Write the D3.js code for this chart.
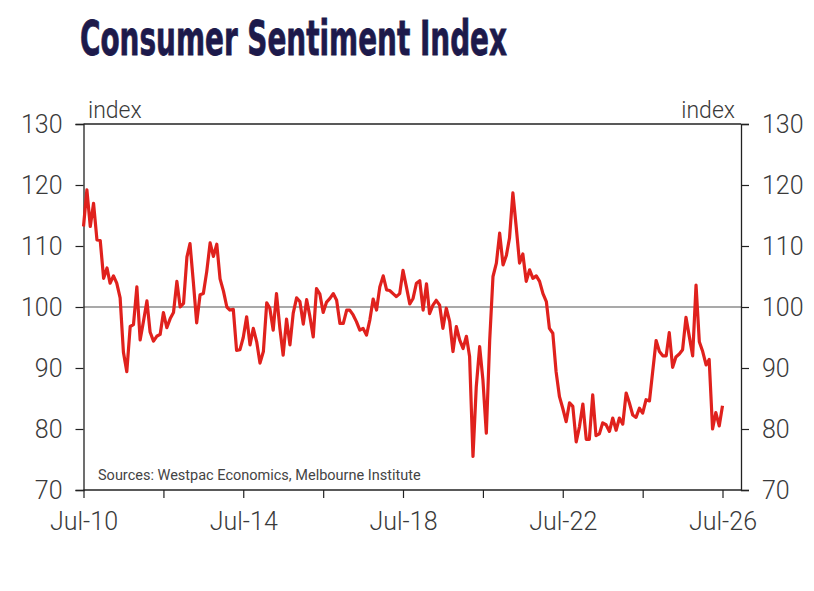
<!DOCTYPE html>
<html><head><meta charset="utf-8">
<script src="https://cdn.jsdelivr.net/npm/d3@7"></script>
<style>
html,body{margin:0;padding:0;background:#fff;}
svg{display:block;}
</style></head>
<body>
<svg id="chart" width="814" height="591"></svg>
<script>
const title = "Consumer Sentiment Index";
const source = "Sources: Westpac Economics, Melbourne Institute";
const startMonth = "2010-07";
const sentiment = [
113.2,119.2,113.2,117.0,111.0,110.9,104.7,106.4,103.9,105.1,103.9,101.5,
92.6,89.4,96.8,97.1,103.3,94.6,97.7,101.0,95.9,94.4,95.2,95.5,
99.1,96.6,98.1,99.1,104.2,100.0,100.6,108.2,110.4,104.0,97.4,102.0,
102.2,105.8,110.5,108.3,110.3,104.6,102.6,100.0,99.5,99.6,92.9,93.0,
95.0,98.4,93.8,96.5,94.3,90.8,92.7,100.7,99.8,96.2,102.2,96.5,
92.1,98.0,93.8,99.0,101.5,100.9,97.2,101.2,98.5,95.1,103.0,102.1,
99.1,100.8,101.4,102.2,101.1,97.3,97.3,99.5,99.5,98.7,97.6,96.2,
96.5,95.4,97.9,101.3,99.5,103.3,105.1,102.8,102.7,102.2,101.7,102.2,
106.0,103.3,100.5,101.4,103.9,104.3,99.5,103.8,98.9,100.3,101.1,100.3,
96.5,99.8,97.6,92.7,96.8,94.6,93.2,95.2,91.9,75.5,86.9,93.5,
88.0,79.3,94.6,105.0,107.2,112.1,106.9,108.5,111.3,118.7,113.2,107.2,
108.7,104.2,106.1,104.7,105.1,104.2,102.2,100.9,96.5,95.7,89.4,85.3,
83.4,81.2,84.3,83.7,77.9,80.4,84.1,78.3,78.3,85.6,78.9,79.2,
81.0,80.7,79.6,81.8,79.8,81.8,80.8,85.9,84.3,82.3,81.9,83.4,
82.6,84.8,84.6,89.5,94.5,92.7,92.0,92.0,95.8,90.1,91.8,92.3,
93.0,98.3,95.1,92.0,103.6,94.3,92.7,90.5,91.4,80.0,82.7,80.5,
83.8
];
const yTicks = [70,80,90,100,110,120,130];
const xTickDates = ["2010-07","2012-07","2014-07","2016-07","2018-07","2020-07","2022-07","2024-07","2026-07"];
const xLabelDates = ["2010-07","2014-07","2018-07","2022-07","2026-07"];
const axisUnit = "index";

const parse = d3.timeParse("%Y-%m");
const fmt = d3.timeFormat("%b-%y");
const t0 = parse(startMonth);
const data = sentiment.map((v,i)=>({date:d3.timeMonth.offset(t0,i), value:v}));

const L=83.5, R=741, T=124, B=490;
const svg = d3.select("#chart");
const x = d3.scaleTime().domain([parse("2010-07"), parse("2026-07")]).range([L, 722.5]);
const y = d3.scaleLinear().domain([70,130]).range([B, T]);

const lightFont = "Roboto, 'Open Sans', sans-serif";
const axisColor = "#3a3a3a";

// title
svg.append("text")
  .attr("x",80).attr("y",55)
  .attr("font-family","'DejaVu Sans Condensed','Liberation Sans Narrow','Roboto',sans-serif")
  .attr("font-weight","bold")
  .attr("font-size",48)
  .attr("fill","#1d1a4b")
  .attr("stroke","#1d1a4b").attr("stroke-width",0.8)
  .attr("textLength",427).attr("lengthAdjust","spacingAndGlyphs")
  .text(title);

// 100 reference line
svg.append("line")
  .attr("x1",L).attr("x2",R).attr("y1",y(100)).attr("y2",y(100))
  .attr("stroke","#555").attr("stroke-width",1.2);

// left axis
const leftAxis = svg.append("g").attr("transform",`translate(${L},0)`)
  .call(d3.axisLeft(y).tickValues(yTicks).tickSize(8).tickPadding(13));
// right axis
const rightAxis = svg.append("g").attr("transform",`translate(${R},0)`)
  .call(d3.axisRight(y).tickValues(yTicks).tickSize(8).tickPadding(13));
// bottom axis
const labelSet = new Set(xLabelDates);
const bottomAxis = svg.append("g").attr("transform",`translate(0,${B})`)
  .call(d3.axisBottom(x).tickValues(xTickDates.map(parse)).tickSize(8).tickPadding(14)
    .tickFormat(d => labelSet.has(d3.timeFormat("%Y-%m")(d)) ? fmt(d) : ""));
bottomAxis.select(".domain").attr("d",`M${L},0H${R}`);

[leftAxis,rightAxis,bottomAxis].forEach(g=>{
  g.select(".domain").attr("stroke","#222").attr("stroke-width",1.3);
  g.selectAll(".tick line").attr("stroke","#222").attr("stroke-width",1.2);
  g.selectAll(".tick text").attr("font-family",lightFont).attr("font-weight",300)
    .attr("font-size",25).attr("fill",axisColor);
});

// top border
svg.append("line").attr("x1",L).attr("x2",R).attr("y1",T).attr("y2",T)
  .attr("stroke","#222").attr("stroke-width",1.3);

// unit labels
svg.append("text").attr("x",88).attr("y",118).attr("font-family",lightFont).attr("font-weight",300)
  .attr("font-size",23).attr("fill",axisColor).text(axisUnit);
svg.append("text").attr("x",735).attr("y",118).attr("text-anchor","end").attr("font-family",lightFont).attr("font-weight",300)
  .attr("font-size",23).attr("fill",axisColor).text(axisUnit);

// source
svg.append("text").attr("x",98).attr("y",480).attr("font-family",lightFont)
  .attr("font-size",14.5).attr("fill","#444").text(source);

// line
svg.append("path").datum(data)
  .attr("fill","none").attr("stroke","#e0211d").attr("stroke-width",3.2)
  .attr("stroke-linejoin","round")
  .attr("d", d3.line().x(d=>x(d.date)).y(d=>y(d.value)));
</script>
</body></html>
